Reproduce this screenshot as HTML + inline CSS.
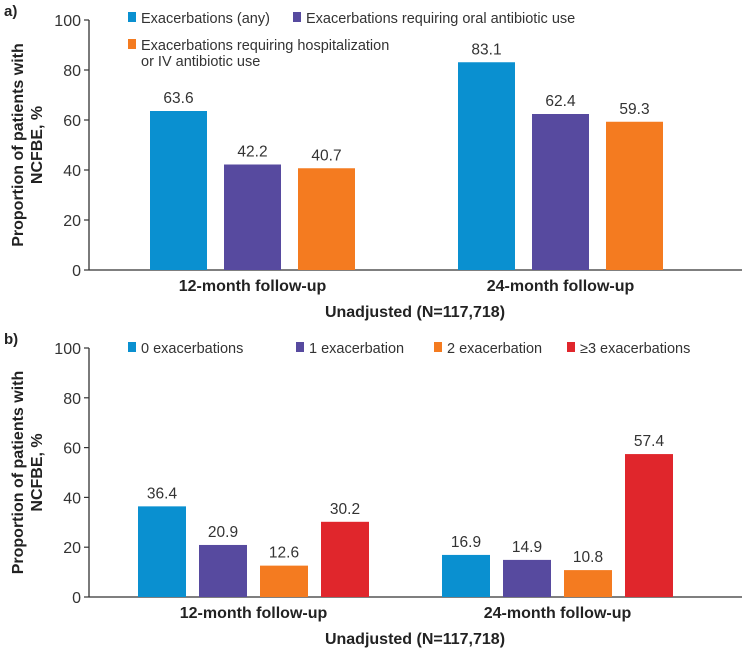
<!DOCTYPE html>
<html><head><meta charset="utf-8"><style>
body{margin:0;background:#fff;}
svg{display:block;font-family:"Liberation Sans",Arial,sans-serif;}
</style></head><body>
<svg id="c" width="754" height="650"></svg>
<script>
const categories=["12-month follow-up","24-month follow-up"];
const seriesA1=[63.6,83.1];
const seriesA2=[42.2,62.4];
const seriesA3=[40.7,59.3];
const seriesB0=[36.4,16.9];
const seriesB1=[20.9,14.9];
const seriesB2=[12.6,10.8];
const seriesB3=[30.2,57.4];
const ticks=[0,20,40,60,80,100];
const NS="http://www.w3.org/2000/svg";
const svg=document.getElementById('c');
function mk(t,a,p){const e=document.createElementNS(NS,t);for(const k in a)e.setAttribute(k,a[k]);(p||svg).appendChild(e);return e;}
function txt(s,a,p){const e=mk('text',a,p);e.textContent=s;return e;}
const colors=["#0a90d0","#574a9f","#f47b20","#e0262c"];
function panel(cfg){
  const g=mk('g',{});
  
  
  const y=v=>cfg.y0-(cfg.y0-cfg.y100)*v/100;
  const ax=mk('line',{x1:89,y1:cfg.y100,x2:89,y2:cfg.y0,stroke:'#333','stroke-width':1.3},g);
  
  const bx=mk('line',{x1:89,y1:cfg.y0,x2:742,y2:cfg.y0,stroke:'#333','stroke-width':1.3},g);
  
  ticks.forEach(t=>{
    const l=mk('line',{x1:84,x2:89,y1:y(t),y2:y(t),stroke:'#333','stroke-width':1.2},g);
    
    const tl=txt(String(t),{x:81,y:y(t)+6,'text-anchor':'end','font-size':16,fill:'#333'},g);
    
  });
  cfg.series.forEach((s,si)=>{
    s.forEach((v,ci)=>{
      const x=cfg.groupStart[ci]+si*cfg.step;
      const r=mk('rect',{x:x,y:y(v),width:cfg.bw,height:cfg.y0-y(v),fill:colors[si]},g);
      
      const vl=txt(v.toFixed(1),{x:x+cfg.bw/2,y:y(v)-8,'text-anchor':'middle','font-size':15.5,fill:'#333'},g);
      
    });
  });
  categories.forEach((c,ci)=>{
    const cx=cfg.groupStart[ci]+((cfg.series.length-1)*cfg.step+cfg.bw)/2;
    const cl=txt(c,{x:cx,y:cfg.y0+21,'text-anchor':'middle','font-size':16,'font-weight':'bold',fill:'#222'},g);
    
  });
  const xt=txt('Unadjusted (N=117,718)',{x:415,y:cfg.y0+47,'text-anchor':'middle','font-size':16,'font-weight':'bold',fill:'#222'},g);
  
  const pl=txt(cfg.label,{x:4,y:cfg.y100-4,'font-size':15,'font-weight':'bold',fill:'#222'},g);
  
  const cy=(cfg.y0+cfg.y100)/2;
  const yt=mk('text',{transform:`translate(0,${cy}) rotate(-90)`,'text-anchor':'middle','font-size':16,'font-weight':'bold',fill:'#222'},g);
  
  const t1=mk('tspan',{x:0,y:23},yt);t1.textContent='Proportion of patients with';
  const t2=mk('tspan',{x:0,y:42},yt);t2.textContent='NCFBE, %';
  cfg.legend.forEach(L=>{
    const lg=mk('g',{},g);
    
    mk('rect',{x:L.x,y:L.y-11,width:8,height:10,fill:colors[L.c]},lg);
    L.lines.forEach((s,i)=>txt(s,{x:L.x+13,y:L.y+i*16,'font-size':14.5,fill:'#333'},lg));
  });
}
panel({name:'panel-a',label:'a)',y0:270,y100:20,bw:57,step:74,groupStart:[150,458],
  series:[seriesA1,seriesA2,seriesA3],
  legend:[{x:128,y:23,c:0,lines:['Exacerbations (any)']},{x:293,y:23,c:1,lines:['Exacerbations requiring oral antibiotic use']},
          {x:128,y:50,c:2,lines:['Exacerbations requiring hospitalization','or IV antibiotic use']}]});
panel({name:'panel-b',label:'b)',y0:597,y100:348,bw:48,step:61,groupStart:[138,442],
  series:[seriesB0,seriesB1,seriesB2,seriesB3],
  legend:[{x:128,y:353,c:0,lines:['0 exacerbations']},{x:296,y:353,c:1,lines:['1 exacerbation']},
          {x:434,y:353,c:2,lines:['2 exacerbation']},{x:567,y:353,c:3,lines:['≥3 exacerbations']}]});
</script>
</body></html>
